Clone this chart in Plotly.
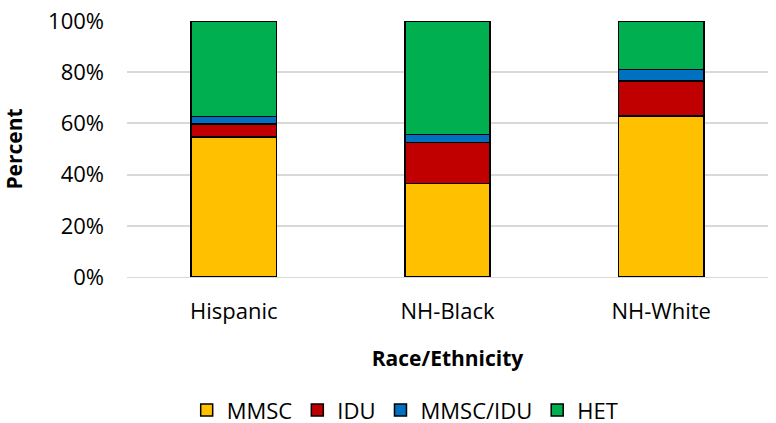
import plotly.graph_objects as go

categories = ["Hispanic", "NH-Black", "NH-White"]
series_names = ["MMSC", "IDU", "MMSC/IDU", "HET"]
mmsc = [54.6, 36.5, 62.9]
idu = [5.2, 16.0, 13.7]
mmsc_idu = [2.8, 3.2, 4.5]
het = [37.4, 44.3, 18.9]
colors = ["#FFC000", "#C00000", "#0070C0", "#00B050"]
y_ticks = [0, 20, 40, 60, 80, 100]
y_tick_labels = ["0%", "20%", "40%", "60%", "80%", "100%"]

FONT = "Open Sans"
FS = 22
TFS = 21

fig = go.Figure()
for name, vals, col in zip(series_names, [mmsc, idu, mmsc_idu, het], colors):
    fig.add_trace(go.Bar(
        name=name, x=categories, y=vals,
        marker=dict(color=col, line=dict(color="black", width=1.5)),
    ))

fig.update_layout(
    barmode="stack",
    bargap=0.6,
    width=776, height=423,
    margin=dict(l=127, r=8, t=21, b=146, autoexpand=False),
    paper_bgcolor="white", plot_bgcolor="white",
    font=dict(family=FONT, size=FS, color="black"),
    legend=dict(orientation="h", x=0.434, xanchor="center", y=-0.52, yanchor="middle",
                font=dict(size=FS, family=FONT), itemwidth=30, traceorder="normal"),
    xaxis=dict(
        title=dict(text="<b>Race/Ethnicity</b>", font=dict(size=TFS, family=FONT), standoff=26),
        showline=True, linecolor="#d9d9d9", linewidth=1,
        ticks="", ticklabelstandoff=15,
        tickfont=dict(size=FS, family=FONT),
    ),
    yaxis=dict(
        title=dict(text="<b>Percent</b>", font=dict(size=TFS, family=FONT), standoff=25),
        range=[0, 100], tickvals=y_ticks, ticktext=y_tick_labels,
        showgrid=True, gridcolor="#d9d9d9", gridwidth=1.5,
        zeroline=False, ticks="", ticklabelstandoff=22,
        ticklabeloverflow="allow",
        tickfont=dict(size=FS, family=FONT),
    ),
)

fig.write_html("out.html", config={"displayModeBar": False},
               post_script="document.body.style.margin='0';")
